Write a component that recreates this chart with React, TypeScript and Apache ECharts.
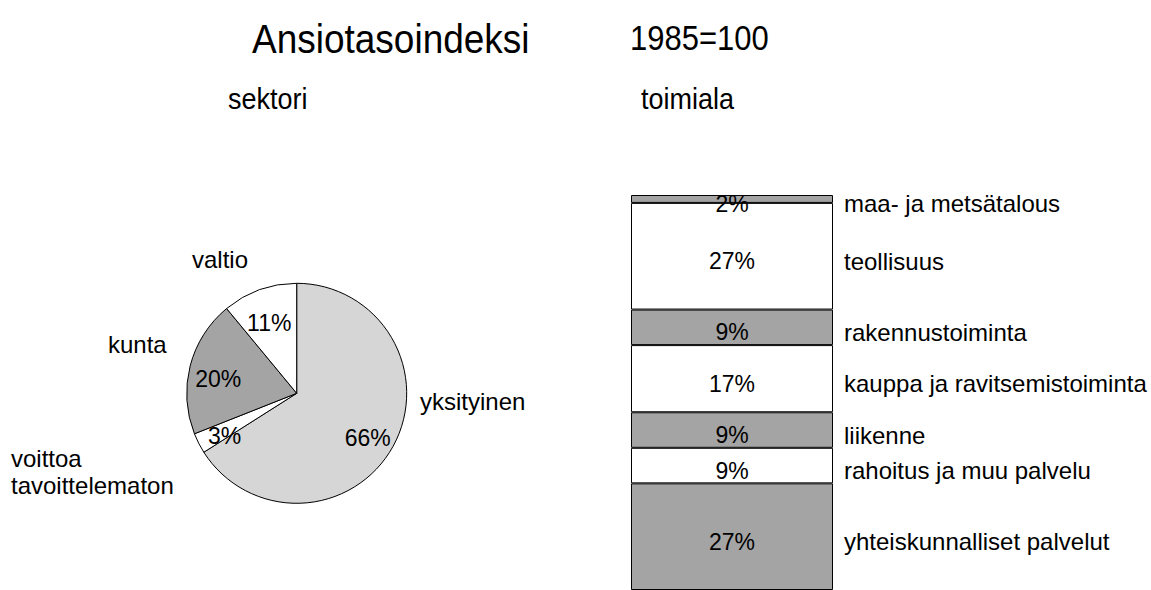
import React, { useEffect, useRef } from "react";
import * as echarts from "echarts";

const sectorNames = ["yksityinen", "voittoa\ntavoittelematon", "kunta", "valtio"];
const sectorValues = [66, 3, 20, 11];
const sectorFill = ["#d6d6d6", "#ffffff", "#a4a4a4", "#ffffff"];

const industryNames = [
  "maa- ja metsätalous",
  "teollisuus",
  "rakennustoiminta",
  "kauppa ja ravitsemistoiminta",
  "liikenne",
  "rahoitus ja muu palvelu",
  "yhteiskunnalliset palvelut",
];
const industryValues = [2, 27, 9, 17, 9, 9, 27];
const industryFill = ["#a4a4a4", "#ffffff", "#a4a4a4", "#ffffff", "#a4a4a4", "#ffffff", "#a4a4a4"];

const FONT = "'Liberation Sans', Arial, Helvetica, sans-serif";

// positions of the pie's outer name labels (layout only)
const sectorLabelLayout = [
  { x: 420, y: 401 },
  { x: 11, y: 458 },
  { x: 108, y: 344 },
  { x: 192, y: 259 },
];
const LINE_STEP = 27;

export default function App() {
  const ref = useRef<HTMLDivElement>(null);
  useEffect(() => {
    if (!ref.current) return;
    const chart = echarts.init(ref.current, undefined, { renderer: "svg" });
    const pieData = sectorNames.map((n, i) => ({
      name: n,
      value: sectorValues[i],
      itemStyle: { color: sectorFill[i] },
    }));
    const barSeries: any[] = industryNames.map((n, i) => ({
      type: "bar",
      name: n,
      stack: "s",
      xAxisIndex: 0,
      yAxisIndex: 0,
      barWidth: "100%",
      data: [industryValues[i]],
      itemStyle: { color: industryFill[i], borderColor: "#000", borderWidth: 1 },
      label: {
        show: true,
        position: "inside",
        offset: [0, 5],
        formatter: "{c}%",
        fontSize: 23,
        fontFamily: FONT,
        color: "#000",
      },
      silent: true,
    }));
    const nameSeries: any[] = industryNames.map((n, i) => ({
      type: "bar",
      name: n,
      stack: "n",
      xAxisIndex: 1,
      yAxisIndex: 1,
      barWidth: "100%",
      data: [industryValues[i]],
      itemStyle: { color: "transparent" },
      label: {
        show: true,
        position: "insideLeft",
        distance: 0,
        offset: [0, 5],
        formatter: "{a}",
        fontSize: 24,
        fontFamily: FONT,
        color: "#000",
      },
      silent: true,
    }));
    const headText = (text: string, x: number, y: number, size: number) => ({
      type: "text",
      x,
      y,
      scaleY: 1.12,
      style: { text, font: `${size}px ${FONT}`, fill: "#000", verticalAlign: "middle" },
    });
    const nameTexts: any[] = [];
    sectorNames.forEach((n, i) => {
      n.split("\n").forEach((line, k) => {
        nameTexts.push({
          type: "text",
          x: sectorLabelLayout[i].x,
          y: sectorLabelLayout[i].y + k * LINE_STEP,
          style: {
            text: line,
            font: `24px ${FONT}`,
            fill: "#000",
            align: "left",
            verticalAlign: "middle",
          },
        });
      });
    });
    chart.setOption({
      animation: false,
      backgroundColor: "#ffffff",
      grid: [
        { left: 631, top: 195, width: 202, height: 398 },
        { left: 844, top: 195, width: 300, height: 398 },
      ],
      xAxis: [
        { type: "category", gridIndex: 0, data: ["a"], show: false },
        { type: "category", gridIndex: 1, data: ["a"], show: false },
      ],
      yAxis: [
        { type: "value", gridIndex: 0, min: 0, max: 100, inverse: true, show: false },
        { type: "value", gridIndex: 1, min: 0, max: 100, inverse: true, show: false },
      ],
      series: [
        {
          type: "pie",
          center: [296.7, 393.3],
          radius: 110,
          startAngle: 90,
          clockwise: true,
          data: pieData,
          label: { show: false },
          labelLine: { show: false },
          itemStyle: { borderColor: "#000", borderWidth: 1 },
          silent: true,
        },
        {
          type: "pie",
          center: [296.7, 393.3],
          radius: 156,
          startAngle: 90,
          clockwise: true,
          avoidLabelOverlap: false,
          data: sectorNames.map((n, i) => ({ name: n, value: sectorValues[i] })),
          itemStyle: { color: "transparent" },
          label: {
            show: true,
            position: "inside",
            offset: [0, 6],
            formatter: "{c}%",
            fontSize: 23,
            fontFamily: FONT,
            color: "#000",
          },
          labelLine: { show: false },
          silent: true,
          z: 3,
        },
        ...barSeries,
        ...nameSeries,
      ],
      graphic: [
        headText("Ansiotasoindeksi", 252, 38, 37),
        headText("1985=100", 630, 38, 31),
        headText("sektori", 228, 98, 27),
        headText("toimiala", 641, 98, 27),
        ...nameTexts,
      ],
    });
    return () => chart.dispose();
  }, []);
  return (
    <div
      ref={ref}
      style={{ position: "absolute", left: 0, top: 0, width: 1151, height: 590 }}
    />
  );
}
